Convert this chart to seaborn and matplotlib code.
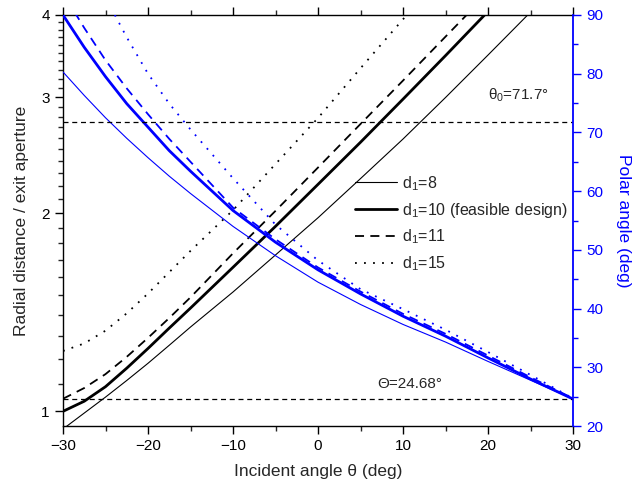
import numpy as np
import pandas as pd
import matplotlib
matplotlib.use("Agg")
import matplotlib.pyplot as plt
from matplotlib.lines import Line2D
from matplotlib.ticker import FixedLocator, NullFormatter, MultipleLocator
import seaborn as sns

# ---------------- data ----------------
theta = [-30, -27.5, -25, -22.5, -20, -17.5, -15, -10, -5, 0, 5, 10, 15, 20, 25, 30]

# radial distance / exit aperture (left, log axis)
rad_d8 = [0.94, 0.994, 1.051, 1.114, 1.183, 1.26, 1.343, 1.518, 1.728, 1.968, 2.257, 2.592, 2.997, 3.477, 4.04, np.nan]
rad_d10 = [1.0, 1.036, 1.090, 1.163, 1.246, 1.338, 1.435, 1.655, 1.91, 2.212, 2.563, 2.98, 3.47, 4.05, np.nan, np.nan]
rad_d11 = [1.045, 1.085, 1.139, 1.21, 1.293, 1.386, 1.49, 1.738, 2.016, 2.346, 2.732, 3.18, 3.708, 4.32, np.nan, np.nan]
rad_d15 = [1.235, 1.268, 1.326, 1.409, 1.51, 1.627, 1.753, 2.021, 2.375, 2.79, 3.32, 3.94, 4.69, np.nan, np.nan, np.nan]

# polar angle (right axis, deg)
pol_d8 = [80.3, 76.3, 72.5, 69.0, 65.7, 62.55, 59.6, 54.0, 49.0, 44.5, 40.7, 37.3, 34.3, 31.0, 27.8, 24.6]
pol_d10 = [90.0, 84.5, 79.5, 74.9, 70.9, 66.9, 63.4, 56.7, 51.3, 46.6, 42.5, 38.7, 35.3, 31.6, 28.0, 24.6]
pol_d11 = [93.7, 87.8, 82.3, 77.5, 73.1, 68.9, 65.0, 57.2, 51.8, 47.0, 42.9, 39.1, 35.7, 32.0, 28.3, 24.7]
pol_d15 = [np.nan, np.nan, 93.0, 86.2, 80.0, 74.9, 70.5, 62.2, 54.3, 48.2, 43.3, 39.9, 36.4, 32.6, 28.7, 24.7]

labels = ["d$_1$=8", "d$_1$=10 (feasible design)", "d$_1$=11", "d$_1$=15"]
theta0 = 71.7
Theta = 24.68

# ---------------- style ----------------
sns.set_style("ticks")
plt.rcParams["font.family"] = ["Liberation Sans", "DejaVu Sans"]
plt.rcParams["mathtext.fontset"] = "custom"
plt.rcParams["mathtext.rm"] = "Liberation Sans"
plt.rcParams["mathtext.it"] = "Liberation Sans:italic"

BLUE = "#0000FF"
styles = [
    dict(lw=0.8, ls="-"),
    dict(lw=2.0, ls="-"),
    dict(lw=1.3, ls=(0, (5, 3.5))),
    dict(lw=1.3, ls=(0, (1, 4))),
]

fig = plt.figure(figsize=(6.33, 4.93), dpi=100)
ax = fig.add_axes([63 / 633, 1 - 426 / 493, 510 / 633, 411 / 493])
ax2 = ax.twinx()

def draw(axis, ys, color, st):
    df = pd.DataFrame({"theta": theta, "v": ys}).dropna()
    sns.lineplot(data=df, x="theta", y="v", ax=axis, color=color,
                 estimator=None, sort=True, linewidth=st["lw"],
                 linestyle=st["ls"], legend=False)

for ys, st in zip([rad_d8, rad_d10, rad_d11, rad_d15], styles):
    draw(ax, ys, "black", st)
for ys, st in zip([pol_d8, pol_d10, pol_d11, pol_d15], styles):
    draw(ax2, ys, BLUE, st)

# reference lines
ax2.axhline(theta0, color="black", lw=0.9, ls=(0, (4, 3)))
ax2.axhline(Theta, color="black", lw=0.9, ls=(0, (4, 3)))

# axes settings
ax.set_xlim(-30, 30)
ax.set_yscale("log")
ax.set_ylim(0.95, 4)
ax.yaxis.set_major_locator(FixedLocator([1, 2, 3, 4]))
ax.set_yticklabels(["1", "2", "3", "4"])
minors = [round(v, 1) for v in np.arange(1.1, 4.0, 0.1) if abs(v - round(v)) > 1e-6]
ax.yaxis.set_minor_locator(FixedLocator(minors))
ax.yaxis.set_minor_formatter(NullFormatter())
ax.xaxis.set_major_locator(MultipleLocator(10))
ax.xaxis.set_minor_locator(MultipleLocator(5))

ax2.set_ylim(20, 90)
ax2.yaxis.set_major_locator(MultipleLocator(10))
ax2.yaxis.set_minor_locator(MultipleLocator(5))

ax.tick_params(axis="both", which="major", direction="out", length=6, width=1,
               labelsize=11, colors="black", top=True, labeltop=False)
ax.tick_params(axis="both", which="minor", direction="out", length=3.5, width=1,
               top=True)
ax.tick_params(axis="y", right=False, which="both")
ax2.tick_params(axis="y", which="major", direction="out", length=6, width=1,
                labelsize=11, colors=BLUE)
ax2.tick_params(axis="y", which="minor", direction="out", length=3.5, width=1,
                colors=BLUE)

for s in ["left", "top", "bottom"]:
    ax.spines[s].set_color("black")
    ax.spines[s].set_linewidth(1.0)
    ax2.spines[s].set_visible(False)
ax.spines["right"].set_visible(False)
ax2.spines["right"].set_color(BLUE)
ax2.spines["right"].set_linewidth(1.3)
ax.spines["top"].set_visible(True)

ax.set_xlabel("Incident angle θ (deg)", fontsize=12.5, labelpad=8)
ax.set_ylabel("Radial distance / exit aperture", fontsize=12.5, labelpad=9)
ax2.set_ylabel("Polar angle (deg)", fontsize=12.5, color=BLUE, rotation=270,
               labelpad=20)

# annotations
ax2.text(27.1, 76.3, "θ$_0$=71.7°", ha="right", va="center", fontsize=11)
ax2.text(14.6, 27.2, "Θ=24.68°", ha="right", va="center", fontsize=11)

# legend (black samples)
handles = [Line2D([0], [0], color="black", lw=st["lw"], ls=st["ls"]) for st in styles]
ax.legend(handles, labels, loc="upper left", bbox_to_anchor=(0.573, 0.613),
          frameon=False, fontsize=11.5, handlelength=2.6, handletextpad=0.35,
          labelspacing=0.5, borderpad=0, borderaxespad=0)

fig.savefig("out.png", dpi=100)
